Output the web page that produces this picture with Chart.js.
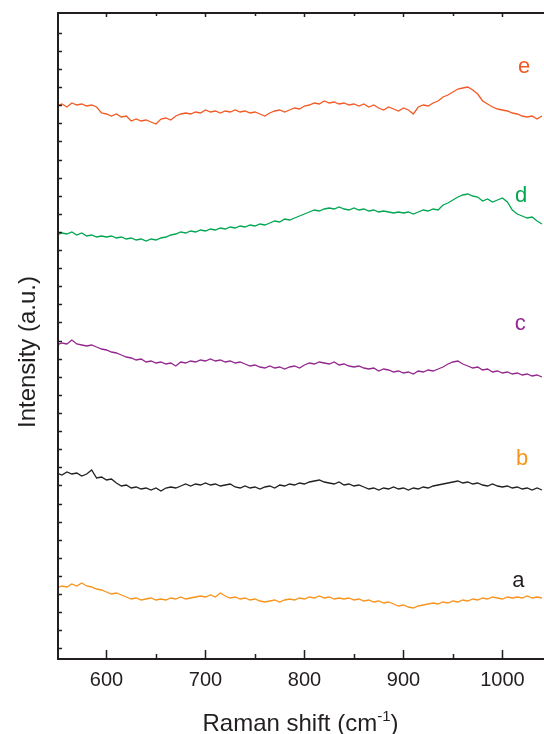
<!DOCTYPE html>
<html>
<head>
<meta charset="utf-8">
<script src="https://cdn.jsdelivr.net/npm/chart.js@4.4.1/dist/chart.umd.min.js"></script>
<style>
html, body { margin: 0; padding: 0; background: #fff; }
canvas { display: block; }
</style>
</head>
<body>
<canvas id="grafico" width="544" height="734"></canvas>
<script>
// deslocamento Raman (cm-1), eixo x
const shift = [550,555,560,565,570,575,580,585,590,595,
  600,605,610,615,620,625,630,635,640,645,
  650,655,660,665,670,675,680,685,690,695,
  700,705,710,715,720,725,730,735,740,745,
  750,755,760,765,770,775,780,785,790,795,
  800,805,810,815,820,825,830,835,840,845,
  850,855,860,865,870,875,880,885,890,895,
  900,905,910,915,920,925,930,935,940,945,
  950,955,960,965,970,975,980,985,990,995,
  1000,1005,1010,1015,1020,1025,1030,1035,1040];

// intensidades (u.a., ja com o deslocamento vertical de cada curva)
const serieA = [69,71,70,73,71,74,71,70,68,67,
  65,63,64,62,60,58,59,57,58,59,
  57,58,57,59,58,60,58,59,60,61,
  60,62,60,64,61,59,60,58,59,57,
  58,56,55,56,57,55,57,58,57,59,
  58,60,59,61,59,60,58,59,58,59,
  57,58,56,57,55,56,54,55,53,51,
  52,50,49,51,52,53,54,53,55,54,
  56,55,57,56,58,57,59,58,60,59,
  58,60,59,60,59,61,59,60,59];
const serieB = [184,182,185,183,184,181,183,187,179,180,
  177,178,174,171,172,169,170,168,169,167,
  169,166,169,170,169,171,173,171,173,172,
  174,172,173,171,172,173,170,169,171,169,
  170,168,170,171,169,172,171,173,172,174,
  173,175,176,177,175,174,173,175,172,173,
  171,172,170,168,169,167,169,168,170,168,
  169,167,169,168,170,169,171,172,173,174,
  175,176,174,175,173,174,172,171,173,171,
  170,171,169,170,168,169,167,169,167];
const serieC = [312,314,313,317,313,312,311,312,310,308,
  307,305,304,302,300,299,297,298,295,296,
  294,295,293,294,291,295,294,296,295,297,
  296,298,296,297,295,296,294,295,293,291,
  292,290,289,291,289,290,288,290,291,289,
  292,294,293,295,294,293,295,292,293,291,
  290,291,289,288,289,286,288,287,285,286,
  284,285,283,286,285,287,286,288,290,293,
  295,296,293,291,289,290,287,288,285,286,
  284,285,283,284,282,283,281,282,280];
const serieD = [422,424,423,425,422,424,421,422,420,421,
  420,421,419,420,418,419,417,418,416,418,
  417,419,420,422,423,425,424,426,425,427,
  426,428,427,429,428,430,429,431,430,432,
  431,433,432,434,436,435,438,437,439,441,
  443,445,447,446,448,449,448,450,448,447,
  449,447,448,446,447,445,446,445,444,445,
  444,445,443,445,447,446,448,447,452,454,
  457,460,462,463,461,460,456,458,455,457,
  459,455,447,443,441,439,440,436,433];
const serieE = [551,553,550,554,552,553,551,552,550,544,
  543,541,543,540,541,536,538,536,537,535,
  533,538,539,537,541,543,544,543,545,544,
  547,545,546,544,546,545,547,545,546,544,
  545,543,541,544,546,547,545,547,549,548,
  551,552,554,553,556,554,555,553,554,552,
  553,551,553,550,552,549,547,550,548,546,
  549,547,543,550,552,551,554,556,560,562,
  565,568,569,570,567,563,556,553,550,548,
  547,546,544,543,541,540,541,538,541];

const nomes = ['a','b','c','d','e'];
const xTicks = [600,700,800,900,1000];
const xMinor = [650,750,850,950];

const ink = '#231f20';
const fonte = "'Liberation Sans', Arial, Helvetica, sans-serif";
const corLinha = ['#f7941d', '#231f20', '#93278f', '#00a651', '#f15a24'];
const corRotulo = ['#231f20', '#f7941d', '#93278f', '#00a651', '#f15a24'];
// onde fica cada letra (em coordenadas dos dados)
const rotuloX = [1016, 1020, 1018, 1019, 1022];
const rotuloY = [70, 192, 327, 455, 584];

function pontos(arr) {
  return shift.map((x, i) => ({ x: x, y: arr[i] }));
}

// moldura com ticks para dentro, titulos e letras das curvas
const moldura = {
  id: 'moldura',
  afterDatasetsDraw(chart) {
    const ctx = chart.ctx;
    const a = chart.chartArea;
    const sx = chart.scales.x;
    const sy = chart.scales.y;
    ctx.save();
    ctx.strokeStyle = ink;
    ctx.lineWidth = 2;
    ctx.beginPath();
    ctx.moveTo(a.right + 2, a.top);
    ctx.lineTo(a.left + 1, a.top);
    ctx.lineTo(a.left + 1, a.bottom);
    ctx.lineTo(a.right + 2, a.bottom);
    ctx.stroke();

    ctx.lineWidth = 1.5;
    ctx.beginPath();
    xTicks.forEach(v => {
      const px = Math.round(sx.getPixelForValue(v)) + 0.5;
      ctx.moveTo(px, a.bottom); ctx.lineTo(px, a.bottom - 9);
      ctx.moveTo(px, a.top); ctx.lineTo(px, a.top + 4);
    });
    xMinor.forEach(v => {
      const px = Math.round(sx.getPixelForValue(v)) + 0.5;
      ctx.moveTo(px, a.bottom); ctx.lineTo(px, a.bottom - 5);
      ctx.moveTo(px, a.top); ctx.lineTo(px, a.top + 3);
    });
    sy.ticks.forEach(t => {
      const py = Math.round(sy.getPixelForValue(t.value)) + 0.5;
      if (py < a.top + 4 || py > a.bottom - 4) return;
      ctx.moveTo(a.left + 1, py); ctx.lineTo(a.left + 5, py);
    });
    ctx.stroke();

    // titulo do eixo x com expoente
    ctx.fillStyle = ink;
    ctx.textBaseline = 'alphabetic';
    ctx.textAlign = 'left';
    const t1 = 'Raman shift (cm', t2 = '-1', t3 = ')';
    ctx.font = '24px ' + fonte;
    const w1 = ctx.measureText(t1).width, w3 = ctx.measureText(t3).width;
    ctx.font = '15px ' + fonte;
    const w2 = ctx.measureText(t2).width;
    let x0 = (a.left + a.right) / 2 - (w1 + w2 + w3) / 2;
    const base = 731;
    ctx.font = '24px ' + fonte;
    ctx.fillText(t1, x0, base);
    ctx.font = '15px ' + fonte;
    ctx.fillText(t2, x0 + w1, base - 10);
    ctx.font = '24px ' + fonte;
    ctx.fillText(t3, x0 + w1 + w2, base);

    // titulo do eixo y
    ctx.save();
    ctx.translate(28, 352);
    ctx.rotate(-Math.PI / 2);
    ctx.textAlign = 'center';
    ctx.textBaseline = 'middle';
    ctx.fillText('Intensity (a.u.)', 0, 0);
    ctx.restore();

    // letras das curvas
    ctx.font = '22px ' + fonte;
    ctx.textAlign = 'center';
    ctx.textBaseline = 'alphabetic';
    nomes.forEach((n, i) => {
      ctx.fillStyle = corRotulo[i];
      ctx.fillText(n, sx.getPixelForValue(rotuloX[i]), sy.getPixelForValue(rotuloY[i]));
    });
    ctx.restore();
  }
};

const series = [serieA, serieB, serieC, serieD, serieE];
const data = {
  datasets: series.map((s, i) => ({
    label: nomes[i],
    data: pontos(s),
    borderColor: corLinha[i],
    borderWidth: 1.3,
    pointRadius: 0,
    tension: 0,
    fill: false
  }))
};

const config = {
  type: 'line',
  data: data,
  options: {
    responsive: false,
    animation: false,
    events: [],
    layout: { padding: { top: 13, left: 0, right: 0, bottom: 0 } },
    plugins: { legend: { display: false }, tooltip: { enabled: false } },
    scales: {
      x: {
        type: 'linear',
        min: 550,
        max: 1042,
        grid: { display: false, drawTicks: false },
        border: { display: false },
        afterBuildTicks: s => { s.ticks = xTicks.map(v => ({ value: v })); },
        afterFit: s => { s.height = 75; },
        ticks: {
          color: ink,
          padding: 9,
          maxRotation: 0,
          font: { family: fonte, size: 20 },
          callback: v => String(v)
        }
      },
      y: {
        type: 'linear',
        min: -2,
        max: 644,
        grid: { display: false, drawTicks: false },
        border: { display: false },
        afterBuildTicks: s => {
          const t = [];
          for (let v = 8.7; v < 644; v += 18.1) t.push({ value: v });
          s.ticks = t;
        },
        afterFit: s => { s.width = 57; },
        ticks: { display: false }
      }
    }
  },
  plugins: [moldura]
};

let myChart = new Chart(document.getElementById('grafico'), config);
</script>
</body>
</html>
